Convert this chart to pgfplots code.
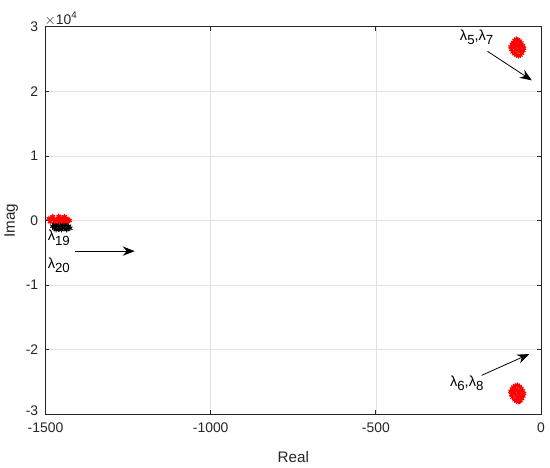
\documentclass[border=0pt]{standalone}
\usepackage{pgfplots}
\pgfplotsset{compat=1.18}
\usepackage{fontspec}
\setmainfont{Liberation Sans}
\usetikzlibrary{arrows.meta}
\definecolor{axgray}{RGB}{38,38,38}
\definecolor{gridgray}{RGB}{225,225,225}
\newcommand\sub[1]{\raisebox{-0.55ex}{\fontsize{10}{11}\selectfont #1}}
\begin{document}
\begin{tikzpicture}
\begin{axis}[
  scale only axis,
  width=374.25pt, height=292.5pt,
  xmin=-1500, xmax=0, ymin=-30000, ymax=30000,
  xtick={-1500,-1000,-500,0},
  ytick={-30000,-20000,-10000,0,10000,20000,30000},
  scaled y ticks=false,
  /pgf/number format/assume math mode=true,
  xticklabel style={font=\fontsize{10.5}{12}\selectfont, text=axgray, yshift=-3pt},
  yticklabel style={font=\fontsize{10.5}{12}\selectfont, text=axgray, xshift=-2pt},
  yticklabels={\raisebox{5pt}{-3},-2,-1,0,1,2,3},
  xticklabels={-1500,-1000,-500,0},
  grid=major,
  major grid style={gridgray, line width=0.5pt},
  axis line style={axgray, line width=0.6pt},
  tick style={axgray, line width=0.6pt},
  tick align=inside,
  major tick length=3pt,
  xlabel={Real}, ylabel={Imag},
  xlabel style={font=\fontsize{11.5}{13}\selectfont, text=axgray, yshift=-7pt},
  ylabel style={font=\fontsize{11.5}{13}\selectfont, text=axgray, yshift=-1pt},
  clip=false,
]
% top right cluster
\addplot[only marks, mark=asterisk, mark size=2pt, red, line width=0.8pt] coordinates {
(-92,26900)(-88,27300)(-84,27600)(-80,27900)(-75,28100)(-70,28000)(-65,27800)(-60,27500)
(-55,27100)(-52,26700)(-54,26300)(-58,25900)(-63,25600)(-68,25500)(-74,25600)(-80,25800)
(-86,26100)(-90,26500)(-80,26800)(-72,27100)(-64,26600)(-70,26200)(-78,27400)(-62,27200)
(-84,26900)(-76,26400)(-68,26900)(-72,27600)(-60,26200)(-86,27200)
};
% bottom right cluster
\addplot[only marks, mark=asterisk, mark size=2pt, red, line width=0.8pt] coordinates {
(-92,-26500)(-88,-26100)(-84,-25800)(-78,-25600)(-72,-25500)(-66,-25700)(-60,-26000)(-55,-26400)
(-52,-26800)(-54,-27200)(-58,-27600)(-63,-27900)(-68,-28100)(-74,-28000)(-80,-27800)(-86,-27400)
(-90,-27000)(-80,-26700)(-72,-26400)(-64,-26900)(-70,-27300)(-78,-26100)(-62,-26300)(-84,-26600)
(-76,-27100)(-68,-26600)(-72,-27700)(-60,-27300)(-86,-26300)(-66,-28000)
};
% left cluster black
\addplot[only marks, mark=asterisk, mark size=2.2pt, black, line width=0.8pt] coordinates {
(-1478,-900)(-1472,-1200)(-1466,-800)(-1460,-1300)(-1454,-900)(-1448,-1200)(-1442,-800)
(-1436,-1300)(-1430,-900)(-1426,-1200)(-1474,-600)(-1462,-600)(-1450,-600)(-1438,-600)
(-1468,-1400)(-1452,-1400)(-1436,-1400)
};
% left cluster red
\addplot[only marks, mark=asterisk, mark size=2pt, red, line width=0.8pt] coordinates {
(-1490,300)(-1485,100)(-1480,400)(-1474,200)(-1468,0)(-1462,350)(-1456,150)(-1450,400)
(-1444,100)(-1438,300)(-1432,200)(-1427,0)(-1486,-200)(-1472,-150)(-1458,-250)(-1444,-200)
(-1432,-150)(-1478,600)(-1460,650)(-1442,600)
};
% annotations
\draw[-{Stealth[length=9pt,width=7pt]}, black, line width=0.6pt] (axis cs:-162,26200) -- (axis cs:-28,21700);
\draw[-{Stealth[length=9pt,width=7pt]}, black, line width=0.6pt] (axis cs:-180,-24000) -- (axis cs:-36,-20700);
\draw[-{Stealth[length=9pt,width=7pt]}, black, line width=0.6pt] (axis cs:-1410,-4750) -- (axis cs:-1230,-4750);
\node[font=\fontsize{11}{13}\selectfont, inner sep=0pt] at (axis cs:-195,28400) {λ\sub{5},λ\sub{7}};
\node[font=\fontsize{11}{13}\selectfont, inner sep=0pt] at (axis cs:-225,-25200) {λ\sub{6},λ\sub{8}};
\node[font=\fontsize{11}{13}\selectfont, inner sep=0pt, anchor=west] at (axis cs:-1494,-2700) {λ\sub{19}};
\node[font=\fontsize{11}{13}\selectfont, inner sep=0pt, anchor=west] at (axis cs:-1494,-6900) {λ\sub{20}};
\node[anchor=south west, inner sep=1pt, font=\fontsize{10.5}{12}\selectfont, text=axgray] at (rel axis cs:-0.005,1) {$\times$10\textsuperscript{4}};
\end{axis}
\path (current axis.south west) ++(-31.5pt,-40.5pt) coordinate (bbl);
\path (current axis.north east) ++(6.75pt,20.25pt) coordinate (btr);
\useasboundingbox (bbl) rectangle (btr);
\end{tikzpicture}
\end{document}
